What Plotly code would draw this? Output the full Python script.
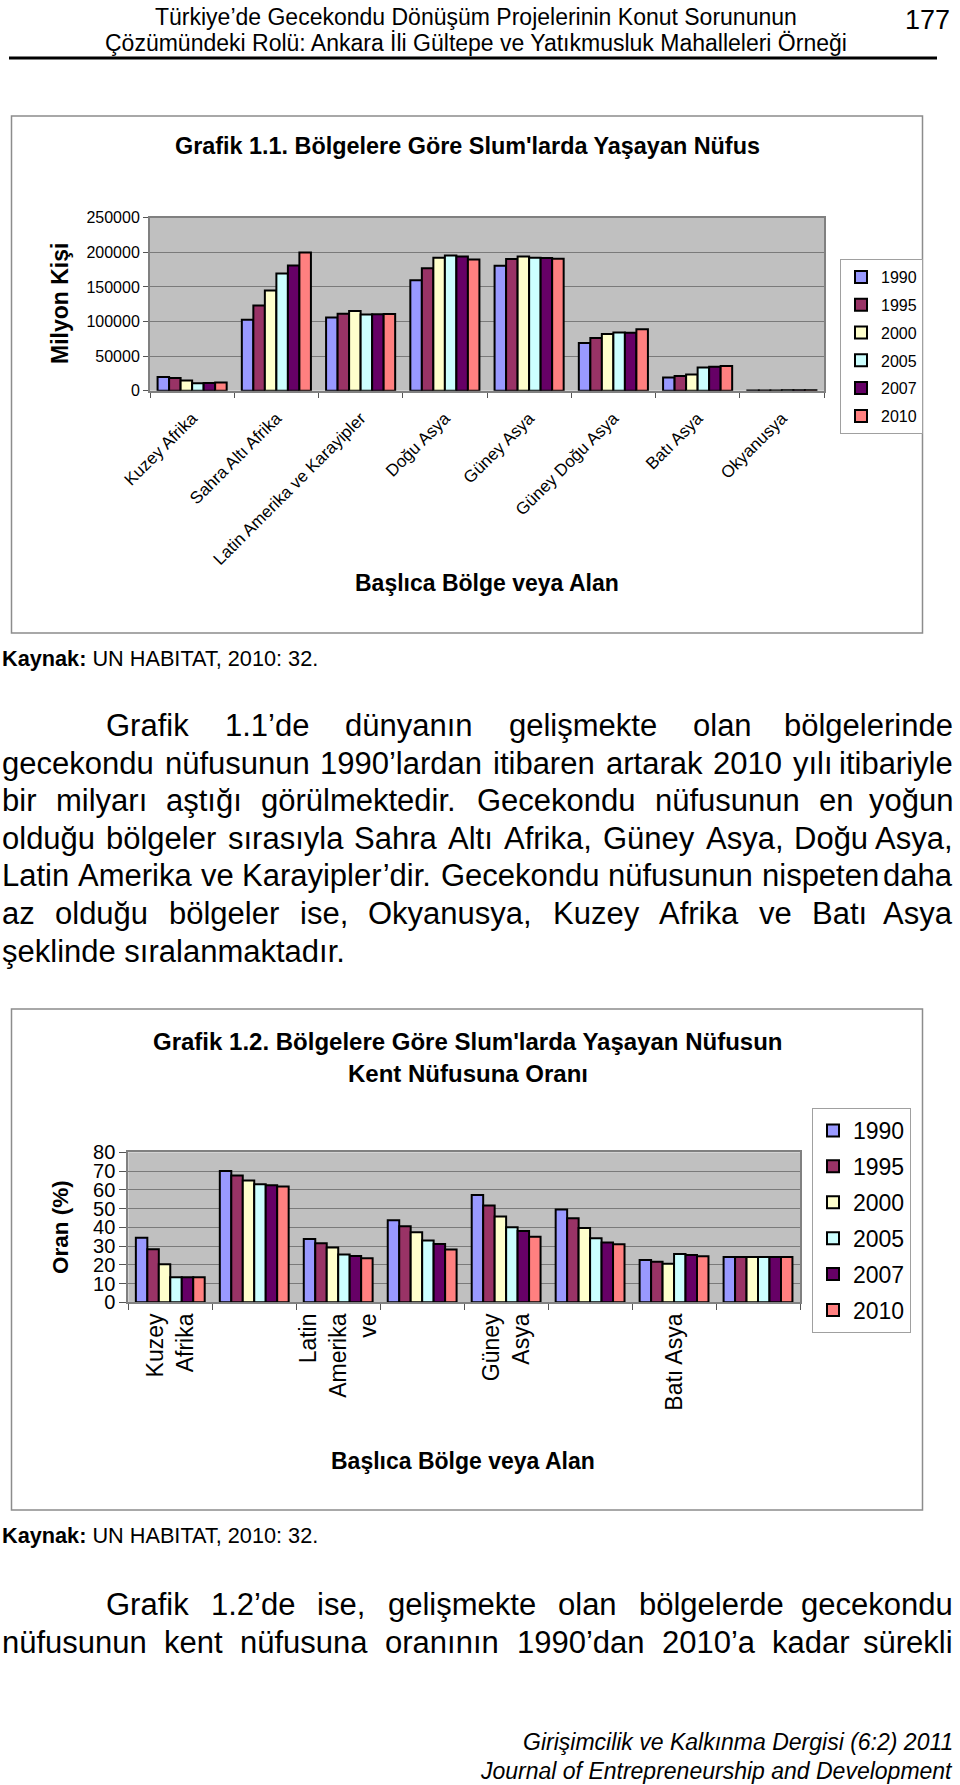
import plotly.graph_objects as go

# ---------------- DATA ----------------
regions = ["Kuzey Afrika", "Sahra Altı Afrika", "Latin Amerika ve Karayipler", "Doğu Asya",
           "Güney Asya", "Güney Doğu Asya", "Batı Asya", "Okyanusya"]
years = ["1990", "1995", "2000", "2005", "2007", "2010"]

# Grafik 1.1 - slum population (thousands)
pop_1990 = [19731, 102588, 105740, 159754, 180449, 69029, 19068, 379]
pop_1995 = [18417, 123210, 111246, 177063, 190276, 76079, 21148, 421]
pop_2000 = [14729, 144683, 115192, 192265, 194009, 81942, 23466, 462]
pop_2005 = [10708, 169515, 110105, 195463, 192041, 84013, 33672, 499]
pop_2007 = [11142, 181030, 110554, 194020, 191735, 83726, 34639, 505]
pop_2010 = [11836, 199540, 110763, 189621, 190748, 88912, 35713, 556]

# Grafik 1.2 - share of urban population living in slums (%)
share_1990 = [34.4, 70.0, 33.7, 43.7, 57.2, 49.5, 22.5, 24.1]
share_1995 = [28.3, 67.6, 31.5, 40.6, 51.6, 44.8, 21.6, 24.1]
share_2000 = [20.3, 65.0, 29.2, 37.4, 45.8, 39.6, 20.6, 24.1]
share_2005 = [13.4, 63.0, 25.5, 33.0, 40.0, 34.2, 25.8, 24.1]
share_2007 = [13.4, 62.4, 24.7, 31.1, 38.0, 31.9, 25.2, 24.1]
share_2010 = [13.3, 61.7, 23.5, 28.2, 35.0, 31.0, 24.6, 24.1]

chart1_ticks = [0, 50000, 100000, 150000, 200000, 250000]
chart2_ticks = [0, 10, 20, 30, 40, 50, 60, 70, 80]
chart2_ticktext = ["Kuzey<br>Afrika", "", "Latin<br>Amerika<br>ve", "", "Güney<br>Asya", "", "Batı Asya", ""]

colors = ["#9999FF", "#993366", "#FFFFCC", "#CCFFFF", "#660066", "#FF8080"]

pop_series = [pop_1990, pop_1995, pop_2000, pop_2005, pop_2007, pop_2010]
share_series = [share_1990, share_1995, share_2000, share_2005, share_2007, share_2010]

# ---------------- LAYOUT HELPERS ----------------
WPX, HPX = 960, 1785
FONT = "Arial, Liberation Sans, sans-serif"


def px(x):
    return x / WPX


def py(y):
    return 1 - y / HPX


# Arial / Liberation Sans advance widths (1/1000 em)
ARIAL = {
    ' ': 278, 'a': 556, 'b': 556, 'c': 500, 'd': 556, 'e': 556, 'f': 278, 'g': 556, 'h': 556,
    'i': 222, 'j': 222, 'k': 500, 'l': 222, 'm': 833, 'n': 556, 'o': 556, 'p': 556, 'q': 556,
    'r': 333, 's': 500, 't': 278, 'u': 556, 'v': 500, 'w': 722, 'x': 500, 'y': 500, 'z': 500,
    'ı': 278, 'ş': 500, 'ğ': 556, 'ü': 556, 'ö': 556, 'ç': 500,
    'A': 667, 'B': 667, 'D': 722, 'G': 778, 'K': 667, 'L': 556, 'O': 778, 'S': 667,
    '0': 556, '1': 556, '2': 556, '9': 556, '’': 222, ',': 278, '.': 278,
}


def tw(s, size):
    return sum(ARIAL.get(ch, 556) for ch in s) * size / 1000.0


fig = go.Figure()

# ---------------- BARS ----------------
for yr, vals, col in zip(years, pop_series, colors):
    fig.add_trace(go.Bar(
        x=regions, y=vals, name=yr, marker=dict(color=col, line=dict(color="black", width=2)),
        xaxis="x", yaxis="y", legend="legend", legendgroup="a" + yr, hoverinfo="skip"))

for yr, vals, col in zip(years, share_series, colors):
    fig.add_trace(go.Bar(
        x=regions, y=vals, name=yr, marker=dict(color=col, line=dict(color="black", width=2)),
        xaxis="x2", yaxis="y2", legend="legend2", legendgroup="b" + yr, hoverinfo="skip"))

axis_common = dict(showline=True, mirror=True, linecolor="#808080", linewidth=2,
                   ticks="outside", tickcolor="#555555", color="black", zeroline=False)

fig.update_layout(
    template="none",
    width=WPX, height=HPX,
    margin=dict(l=0, r=0, t=0, b=0),
    paper_bgcolor="white", plot_bgcolor="#C0C0C0",
    barmode="group", bargap=0.18, bargroupgap=0,
    font=dict(family=FONT, color="black"),
    xaxis=dict(domain=[px(150), px(824)], anchor="y", type="category",
               tickangle=-45, tickfont=dict(size=17), tickson="boundaries", ticklen=5,
               ticklabelstandoff=9,
               showgrid=False, automargin=False, **axis_common),
    yaxis=dict(domain=[py(390.7), py(217.7)], anchor="x", range=[0, 250000],
               tickvals=chart1_ticks, tickformat="d", tickfont=dict(size=16), ticklen=5,
               showgrid=True, gridcolor="#7a7a7a", gridwidth=1, automargin=False, **axis_common),
    xaxis2=dict(domain=[px(128.3), px(800)], anchor="y2", type="category",
                tickvals=regions, ticktext=chart2_ticktext,
                tickangle=-90, tickfont=dict(size=23), tickson="boundaries", ticklen=6,
                showgrid=False, automargin=False, **axis_common),
    yaxis2=dict(domain=[py(1302.3), py(1152.3)], anchor="x2", range=[0, 80],
                tickvals=chart2_ticks, tickfont=dict(size=20), ticklen=7,
                showgrid=True, gridcolor="#7a7a7a", gridwidth=1, automargin=False, **axis_common),
    legend=dict(x=px(840), y=py(259), xanchor="left", yanchor="top", bgcolor="white",
                bordercolor="#a0a0a0", borderwidth=1, font=dict(size=16, color="black"),
                tracegroupgap=4, traceorder="grouped"),
    legend2=dict(x=px(812), y=py(1108), xanchor="left", yanchor="top", bgcolor="white",
                 bordercolor="#a0a0a0", borderwidth=1, font=dict(size=23, color="black"),
                 tracegroupgap=3, traceorder="grouped"),
    showlegend=True,
)

# ---------------- SHAPES ----------------
shapes = [
    dict(type="line", xref="paper", yref="paper", x0=px(9), x1=px(937), y0=py(58), y1=py(58),
         line=dict(color="black", width=3)),
    dict(type="rect", xref="paper", yref="paper", x0=px(11.5), x1=px(922.5), y0=py(116), y1=py(633),
         line=dict(color="#8c8c8c", width=1.5), layer="below"),
    dict(type="rect", xref="paper", yref="paper", x0=px(11.5), x1=px(922.5), y0=py(1009), y1=py(1510),
         line=dict(color="#8c8c8c", width=1.5), layer="below"),
]
fig.update_layout(shapes=shapes)


def ann(text, x, y, size, xanchor="center", yanchor="middle", bold=False, italic=False, angle=0):
    t = text
    if bold:
        t = "<b>" + t + "</b>"
    if italic:
        t = "<i>" + t + "</i>"
    fig.add_annotation(text=t, x=px(x), y=py(y), xref="paper", yref="paper",
                       xanchor=xanchor, yanchor=yanchor, showarrow=False, textangle=angle,
                       font=dict(size=size, family=FONT, color="black"))


# Header
ann("Türkiye’de Gecekondu Dönüşüm Projelerinin Konut Sorununun", 476, 17, 23)
ann("Çözümündeki Rolü: Ankara İli Gültepe ve Yatıkmusluk Mahalleleri Örneği", 476, 43, 23)
ann("177", 952, 20, 27, xanchor="right")

# Chart 1 texts
ann("Grafik 1.1. Bölgelere Göre Slum'larda Yaşayan Nüfus", 467, 146, 23.4, bold=True)
ann("Milyon Kişi", 60, 304, 23, bold=True, angle=-90)
ann("Başlıca Bölge veya Alan", 487, 583, 23, bold=True)
ann("<b>Kaynak:</b> UN HABITAT, 2010: 32.", 0, 658, 21.7, xanchor="left")

# Chart 2 texts
ann("Grafik 1.2. Bölgelere Göre Slum'larda Yaşayan Nüfusun", 468, 1041, 24, bold=True)
ann("Kent Nüfusuna Oranı", 468, 1073, 24, bold=True)
ann("Oran (%)", 60, 1227, 22.5, bold=True, angle=-90)
ann("Başlıca Bölge veya Alan", 463, 1461, 23, bold=True)
ann("<b>Kaynak:</b> UN HABITAT, 2010: 32.", 0, 1535, 21.7, xanchor="left")

# Body text (justified)
BODY = 31
RIGHT = 955


def body_line(text, y, x0, justify=True):
    words = text.split(" ")
    if not justify or len(words) < 2:
        ann(text, x0, y, BODY, xanchor="left")
        return
    widths = [tw(w, BODY) for w in words]
    gap = (RIGHT - x0 - sum(widths)) / (len(words) - 1)
    x = x0
    for i, (w, wd) in enumerate(zip(words, widths)):
        if i == len(words) - 1:
            ann(w, RIGHT, y, BODY, xanchor="right")
        else:
            ann(w, x, y, BODY, xanchor="left")
        x += wd + gap


para1 = [
    "Grafik 1.1’de dünyanın gelişmekte olan bölgelerinde",
    "gecekondu nüfusunun 1990’lardan itibaren artarak 2010 yılı itibariyle",
    "bir milyarı aştığı görülmektedir. Gecekondu nüfusunun en yoğun",
    "olduğu bölgeler sırasıyla Sahra Altı Afrika, Güney Asya, Doğu Asya,",
    "Latin Amerika ve Karayipler’dir. Gecekondu nüfusunun nispeten daha",
    "az olduğu bölgeler ise, Okyanusya, Kuzey Afrika ve Batı Asya",
    "şeklinde sıralanmaktadır.",
]
y0 = 725.4
for i, line in enumerate(para1):
    body_line(line, y0 + i * 37.6, 104 if i == 0 else 0, justify=(i < len(para1) - 1))

para2 = [
    "Grafik 1.2’de ise, gelişmekte olan bölgelerde gecekondu",
    "nüfusunun kent nüfusuna oranının 1990’dan 2010’a kadar sürekli",
]
for i, line in enumerate(para2):
    body_line(line, 1604.6 + i * 37.6, 104 if i == 0 else 0, justify=True)

# Footer
ann("Girişimcilik ve Kalkınma Dergisi (6:2) 2011", 955, 1742, 23, xanchor="right", italic=True)
ann("Journal of Entrepreneurship and Development", 955, 1771, 23, xanchor="right", italic=True)

fig.write_html("out.html")
